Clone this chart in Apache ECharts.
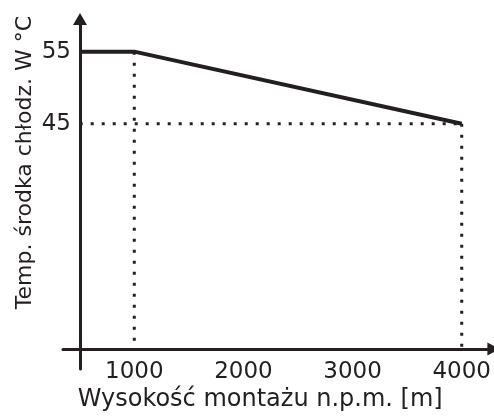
<!DOCTYPE html>
<html>
<head>
<meta charset="utf-8">
<script src="https://cdn.jsdelivr.net/npm/echarts@6/dist/echarts.min.js"></script>
<style>html,body{margin:0;padding:0;background:#fff}#c{width:494px;height:417px}</style>
</head>
<body>
<div id="c"></div>
<script>
// Data
const altitude = [500, 1000, 4000];          // m n.p.m.
const temperature = [55, 55, 45];           // °C
const xTickLabels = [1000, 2000, 3000, 4000];
const yTickLabels = [45, 55];
const xAxisName = 'Wysokość montażu n.p.m. [m]';
const yAxisName = 'Temp. środka chłodz. W °C';
const axisCrossY = 13.77;                   // y value where the x axis crosses
const guideAltitudes = [1000, 4000];
const guideTemp = 45;

const ink = '#231f20';
const font = 'DejaVu Sans';

const mainLine = altitude.map((a, i) => [a, temperature[i]]);
const guides = [];
guideAltitudes.forEach(a => {
  const i = altitude.indexOf(a);
  guides.push([[a, temperature[i]], [a, axisCrossY]]);
});
guides.push([[altitude[0], guideTemp], [guideAltitudes[1], guideTemp]]);

const chart = echarts.init(document.getElementById('c'), null, {renderer: 'canvas'});
chart.setOption({
  backgroundColor: '#fff',
  animation: false,
  grid: {left: 63, width: 435, top: 19, height: 354, containLabel: false},
  xAxis: {
    type: 'value', min: 347, max: 4290, offset: -20,
    splitLine: {show: false},
    axisTick: {show: false},
    axisLine: {show: true, lineStyle: {color: ink, width: 3}, symbol: ['none', 'triangle'], symbolSize: [13, 12]},
    axisLabel: {customValues: xTickLabels, formatter: v => String(v), color: ink, fontFamily: font, fontSize: 23, margin: 12},
    name: xAxisName, nameLocation: 'middle', nameGap: 39, nameMoveOverlap: false,
    nameTextStyle: {color: ink, fontFamily: font, fontSize: 24, padding: [0, 36, 0, 0]}
  },
  yAxis: {
    type: 'value', min: 11.03, max: 59.52, offset: -17,
    splitLine: {show: false},
    axisTick: {show: false},
    axisLine: {show: true, lineStyle: {color: ink, width: 3}, symbol: ['none', 'triangle'], symbolSize: [14, 12]},
    axisLabel: {customValues: yTickLabels, color: ink, fontFamily: font, fontSize: 23, margin: 9},
    name: yAxisName, nameLocation: 'middle', nameGap: 44, nameRotate: 90, nameMoveOverlap: false,
    nameTextStyle: {color: ink, fontFamily: font, fontSize: 22, padding: [0, 0, 0, 63]}
  },
  series: [
    {type: 'line', data: mainLine, symbol: 'none', lineStyle: {color: ink, width: 4}, z: 5},
    ...guides.map(g => ({type: 'line', data: g, symbol: 'none', lineStyle: {color: ink, width: 3, type: [3, 8]}, z: 3}))
  ]
});
</script>
</body>
</html>
